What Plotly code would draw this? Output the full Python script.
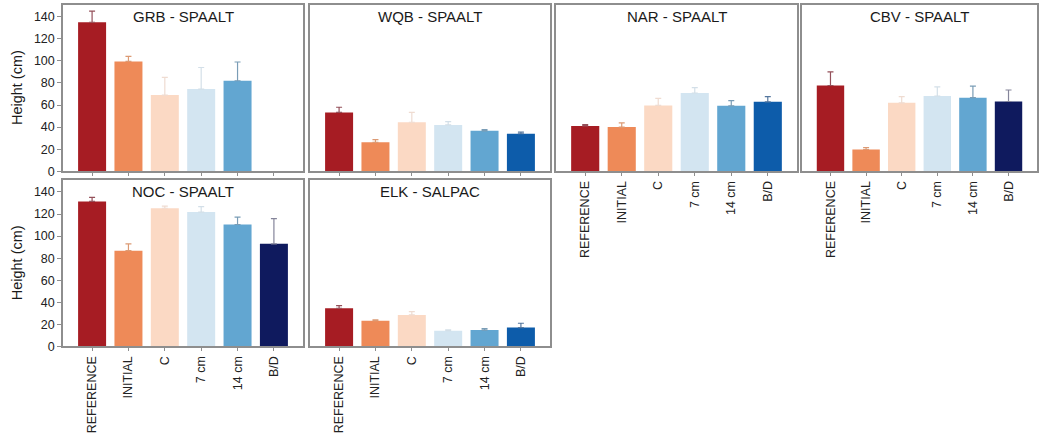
import plotly.graph_objects as go

# Treatment categories (x axis of every panel)
categories = ["REFERENCE", "INITIAL", "C", "7 cm", "14 cm", "B/D"]

# Panel titles (site - species)
panel_titles = ["GRB - SPAALT", "WQB - SPAALT", "NAR - SPAALT",
                "CBV - SPAALT", "NOC - SPAALT", "ELK - SALPAC"]

# Mean height (cm) per category, one list per panel (None = not sampled)
grb_mean = [135, 99.5, 69, 74.5, 82, None]
wqb_mean = [53.3, 26.2, 44.4, 42, 36.6, 34]
nar_mean = [41.1, 40, 59.6, 70.9, 59.3, 62.9]
cbv_mean = [77.7, 19.7, 62, 68.2, 66.7, 63.2]
noc_mean = [131.4, 86.8, 125.2, 121.7, 110.5, 93]
elk_mean = [34.6, 23.3, 28.6, 14.2, 14.8, 17.1]

# Standard error (cm), upper whisker only
grb_err = [10, 4.5, 16, 19.5, 17, None]
wqb_err = [4.7, 2.4, 8.9, 3, 1.2, 1.4]
nar_err = [1.2, 3.8, 6.4, 4.8, 4.7, 4.7]
cbv_err = [12.3, 1.7, 5.6, 8.3, 10.5, 10.4]
noc_err = [3.6, 6.2, 2, 5, 6.7, 22.8]
elk_err = [2.3, 0.9, 3, 0.8, 1.4, 3.9]

means = [grb_mean, wqb_mean, nar_mean, cbv_mean, noc_mean, elk_mean]
errs = [grb_err, wqb_err, nar_err, cbv_err, noc_err, elk_err]

# Fill colours (diverging red-blue); B/D is navy at CBV and NOC
base_colors = ["#A61C23", "#EE8A58", "#FBD9C4", "#D3E5F1", "#62A6D1", "#0D5CAA"]
err_colors = ["#94505a", "#dc9a74", "#efdcd1", "#d3dfe8", "#7a9db6", "#55779e"]
navy_fill, navy_err = "#0F1A5E", "#85859a"
navy_panels = {3, 4}

# Panel geometry in pixels (figure is 1039 x 444)
W, H = 1039, 444
col_px = [(63, 303), (310, 550), (556, 797), (802, 1037)]
row_px = [(5, 174), (183, 352)]
panel_cell = [(0, 0), (0, 1), (0, 2), (0, 3), (1, 0), (1, 1)]
show_xlabels = {2, 3, 4, 5}
show_ylabels = {0, 4}

FONT = "Liberation Sans, Arial, sans-serif"
AXIS_GRAY = "#8e8e8e"

fig = go.Figure()
layout = dict(
    width=W, height=H,
    margin=dict(l=0, r=0, t=0, b=0),
    paper_bgcolor="white", plot_bgcolor="white",
    showlegend=False,
    font=dict(family=FONT, color="#222222"),
    annotations=[],
)

for p in range(6):
    r, c = panel_cell[p]
    x0, x1 = col_px[c]
    y0, y1 = row_px[r]
    xa = "x" if p == 0 else f"x{p + 1}"
    ya = "y" if p == 0 else f"y{p + 1}"

    for k, cat in enumerate(categories):
        m = means[p][k]
        if m is None:
            continue
        fill, ecol = base_colors[k], err_colors[k]
        if k == 5 and p in navy_panels:
            fill, ecol = navy_fill, navy_err
        fig.add_trace(go.Bar(
            x=[cat], y=[m], width=0.77,
            marker=dict(color=fill, line=dict(width=0)),
            error_y=dict(type="data", symmetric=False,
                         array=[errs[p][k]], arrayminus=[0],
                         color=ecol, thickness=1.2, width=3),
            xaxis=xa, yaxis=ya, hoverinfo="x+y",
        ))

    xkey = "xaxis" if p == 0 else f"xaxis{p + 1}"
    ykey = "yaxis" if p == 0 else f"yaxis{p + 1}"
    layout[xkey] = dict(
        domain=[x0 / W, x1 / W], anchor=ya,
        type="category", categoryorder="array", categoryarray=categories,
        range=[-0.8, 5.8],
        showline=True, mirror=True, linecolor=AXIS_GRAY, linewidth=1.5,
        ticks="outside", ticklen=3, tickcolor=AXIS_GRAY,
        showticklabels=p in show_xlabels, tickangle=-90,
        tickfont=dict(size=12.5, family=FONT, color="#222222"),
        showgrid=False, zeroline=False,
    )
    layout[ykey] = dict(
        domain=[(H - y1) / H, (H - y0) / H], anchor=xa,
        range=[0, 150.7],
        showline=True, mirror=True, linecolor=AXIS_GRAY, linewidth=1.5,
        ticks="outside" if p in show_ylabels else "", ticklen=4,
        tickcolor=AXIS_GRAY,
        tickvals=list(range(0, 141, 20)),
        showticklabels=p in show_ylabels,
        tickfont=dict(size=12.5, family=FONT, color="#222222"),
        showgrid=False, zeroline=False,
    )

    # panel title, centred near the top of the frame
    layout["annotations"].append(dict(
        text=panel_titles[p], xref="paper", yref="paper",
        x=(x0 + x1) / 2 / W, y=(H - (y0 + 12)) / H,
        xanchor="center", yanchor="middle", showarrow=False,
        font=dict(size=15, family=FONT, color="#1a1a1a"),
    ))

# shared y-axis titles for the left column
for (y0, y1) in row_px:
    layout["annotations"].append(dict(
        text="Height (cm)", xref="paper", yref="paper",
        x=17 / W, y=(H - (y0 + y1) / 2) / H,
        xanchor="center", yanchor="middle", textangle=-90, showarrow=False,
        font=dict(size=14.5, family=FONT, color="#1a1a1a"),
    ))

fig.update_layout(**layout)
fig.write_html("out.html")
